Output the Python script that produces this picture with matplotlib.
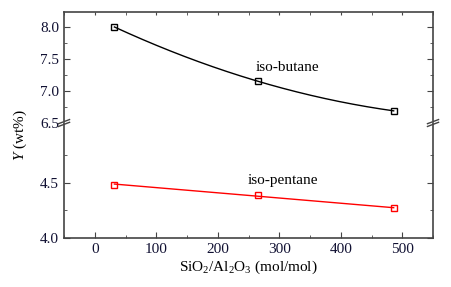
import numpy as np
import matplotlib
matplotlib.use("Agg")
import matplotlib.pyplot as plt

plt.rcParams['font.family'] = ['Liberation Serif', 'DejaVu Serif']
plt.rcParams['mathtext.fontset'] = 'custom'
plt.rcParams['mathtext.rm'] = 'Liberation Serif'
plt.rcParams['mathtext.it'] = 'Liberation Serif:italic'

# data
ratio = [32, 266, 486]
butane = [8.0, 7.15, 6.69]
pentane = [4.485, 4.39, 4.27]

fig = plt.figure(figsize=(4.52, 2.87), dpi=100)
ax_top = fig.add_axes([0.1416, 0.5714, 0.8164, 0.3868])
ax_bot = fig.add_axes([0.1416, 0.1707, 0.8164, 0.4007])

spc = '#444444'
for ax in (ax_top, ax_bot):
    ax.set_xlim(-50, 550)
    ax.set_xticks(range(0, 501, 100))
    ax.set_xticks(range(-50, 551, 50), minor=True)
    for s in ax.spines.values():
        s.set_color(spc)
        s.set_linewidth(1.2)
    ax.tick_params(which='both', direction='in', colors=spc, labelcolor='#111133',
                   labelsize=11, right=True, top=True)
    ax.tick_params(which='major', length=4)
    ax.tick_params(which='minor', length=2.5)

ax_top.set_ylim(6.5, 8.234)
ax_top.set_yticks([6.5, 7.0, 7.5, 8.0])
ax_top.set_yticks([6.75, 7.25, 7.75], minor=True)
ax_top.spines['bottom'].set_visible(False)
ax_top.tick_params(axis='x', which='both', bottom=False, labelbottom=False, length=2)

ax_bot.set_ylim(4.0, 5.045)
ax_bot.set_yticks([4.0, 4.5])
ax_bot.set_yticks([4.25, 4.75], minor=True)
ax_bot.spines['top'].set_visible(False)
ax_bot.tick_params(axis='x', which='both', top=False)

# fitted curves
xs = np.linspace(ratio[0], ratio[-1], 200)
cb = np.polyfit(ratio, butane, 2)
ax_top.plot(xs, np.polyval(cb, xs), color='black', lw=1.0)
ax_top.plot(ratio, butane, ls='none', marker='s', ms=4.5, mfc='none', mec='black', mew=1.0)
cp = np.polyfit(ratio, pentane, 1)
ax_bot.plot(xs, np.polyval(cp, xs), color='red', lw=1.0)
ax_bot.plot(ratio, pentane, ls='none', marker='s', ms=4.5, mfc='none', mec='red', mew=1.0)

ax_top.text(313, 7.36, 'iso-butane', ha='center', va='center', fontsize=11)
ax_bot.text(306, 4.52, 'iso-pentane', ha='center', va='center', fontsize=11)

# axis break marks
for xb in (0, 1):
    for dy in (-0.012, 0.012):
        ax_bot.plot([xb - 0.015, xb + 0.015], [1.0 + dy - 0.018, 1.0 + dy + 0.018],
                    transform=ax_bot.transAxes, color=spc, lw=1.0, clip_on=False)
    ax_bot.plot([xb, xb], [0.988, 1.012], transform=ax_bot.transAxes,
                color='white', lw=2.0, clip_on=False, zorder=0)

ax_bot.set_xlabel(r'SiO$_2$/Al$_2$O$_3$ (mol/mol)', fontsize=11, labelpad=2)
fig.text(0.045, 0.53, r'$Y$ (wt%)', rotation=90, ha='center', va='center', fontsize=11)

fig.savefig('out.png', dpi=100)
